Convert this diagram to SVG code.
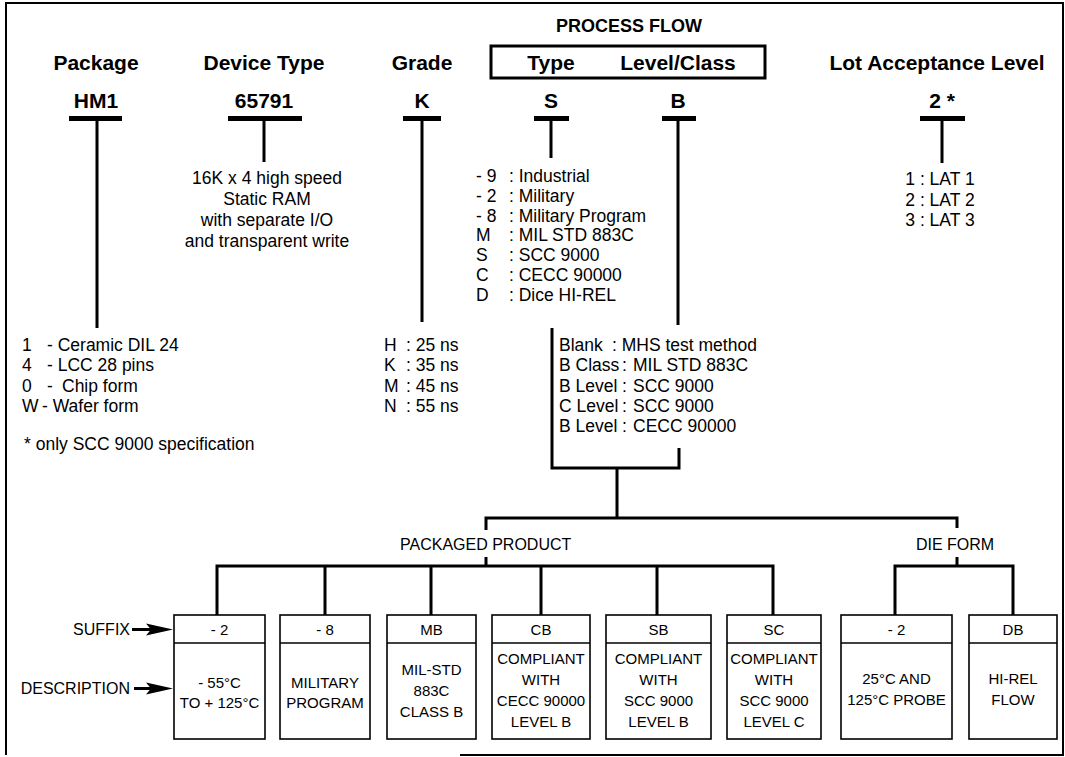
<svg xmlns="http://www.w3.org/2000/svg" width="1065" height="757" viewBox="0 0 1065 757">
<style>
text{font-family:"Liberation Sans",Arial,Helvetica,sans-serif;fill:#000}
.h{font-size:21px;font-weight:bold}
.pf{font-size:18px;font-weight:bold}
.t{font-size:17.5px}
.lb{font-size:16px}
.bx{font-size:15px}
.c{text-anchor:middle}
.e{text-anchor:end}
.bar{fill:#000}
.ln{stroke:#000;stroke-width:3;fill:none}
.box{fill:#fff;stroke:#000;stroke-width:1.6}
</style>
<defs>
<polygon id="ah" points="-27,-6 0,0 -27,6 -22,0"/>
</defs>
<rect width="1065" height="757" fill="#fff"/>
<path d="M460 755H1063V3H6V755" fill="none" stroke="#000" stroke-width="2"/>

<g id="process-flow-header">
<text class="pf c" x="629" y="32">PROCESS FLOW</text>
<rect x="491" y="46" width="274" height="32" fill="none" stroke="#000" stroke-width="3"/>
</g>

<g id="package">
<text class="h c" x="96" y="70">Package</text>
<text class="h c" x="96" y="108">HM1</text>
<rect class="bar" x="69" y="116" width="53" height="5"/>
<text class="t"><tspan x="22" y="351">1</tspan><tspan x="47" y="351">- Ceramic DIL 24</tspan></text>
<text class="t"><tspan x="22" y="371">4</tspan><tspan x="47" y="371">- LCC 28 pins</tspan></text>
<text class="t"><tspan x="22" y="392">0</tspan><tspan x="47" y="392">-</tspan><tspan x="62" y="392">Chip form</tspan></text>
<text class="t"><tspan x="22" y="412">W</tspan><tspan x="42" y="412">- Wafer form</tspan></text>
<text class="t" x="24" y="450">* only SCC 9000 specification</text>
</g>

<g id="device-type">
<text class="h c" x="264" y="70">Device Type</text>
<text class="h c" x="264" y="108">65791</text>
<rect class="bar" x="228" y="116" width="74" height="5"/>
<text class="t c" x="267" y="184">16K x 4 high speed</text>
<text class="t c" x="267" y="205">Static RAM</text>
<text class="t c" x="267" y="226">with separate I/O</text>
<text class="t c" x="267" y="247">and transparent write</text>
</g>

<g id="grade">
<text class="h c" x="422" y="70">Grade</text>
<text class="h c" x="422" y="108">K</text>
<rect class="bar" x="403" y="116" width="38" height="5"/>
<text class="t"><tspan x="384" y="351">H</tspan><tspan x="406" y="351">: 25 ns</tspan></text>
<text class="t"><tspan x="384" y="371">K</tspan><tspan x="406" y="371">: 35 ns</tspan></text>
<text class="t"><tspan x="384" y="392">M</tspan><tspan x="406" y="392">: 45 ns</tspan></text>
<text class="t"><tspan x="384" y="412">N</tspan><tspan x="406" y="412">: 55 ns</tspan></text>
</g>

<g id="type">
<text class="h c" x="551" y="70">Type</text>
<text class="h c" x="551" y="108">S</text>
<rect class="bar" x="534" y="116" width="35" height="5"/>
<text class="t"><tspan x="476" y="182">- 9</tspan><tspan x="509" y="182">: Industrial</tspan></text>
<text class="t"><tspan x="476" y="202">- 2</tspan><tspan x="509" y="202">: Military</tspan></text>
<text class="t"><tspan x="476" y="222">- 8</tspan><tspan x="509" y="222">: Military Program</tspan></text>
<text class="t"><tspan x="476" y="241">M</tspan><tspan x="509" y="241">: MIL STD 883C</tspan></text>
<text class="t"><tspan x="476" y="261">S</tspan><tspan x="509" y="261">: SCC 9000</tspan></text>
<text class="t"><tspan x="476" y="281">C</tspan><tspan x="509" y="281">: CECC 90000</tspan></text>
<text class="t"><tspan x="476" y="301">D</tspan><tspan x="509" y="301">: Dice HI-REL</tspan></text>
</g>

<g id="level-class">
<text class="h c" x="678" y="70">Level/Class</text>
<text class="h c" x="678" y="108">B</text>
<rect class="bar" x="662" y="116" width="34" height="5"/>
<text class="t"><tspan x="559" y="351">Blank</tspan><tspan x="612" y="351">: MHS test method</tspan></text>
<text class="t"><tspan x="559" y="371">B Class</tspan><tspan x="622" y="371">:</tspan><tspan x="633" y="371">MIL STD 883C</tspan></text>
<text class="t"><tspan x="559" y="392">B Level</tspan><tspan x="622" y="392">:</tspan><tspan x="633" y="392">SCC 9000</tspan></text>
<text class="t"><tspan x="559" y="412">C Level</tspan><tspan x="622" y="412">:</tspan><tspan x="633" y="412">SCC 9000</tspan></text>
<text class="t"><tspan x="559" y="432">B Level</tspan><tspan x="622" y="432">:</tspan><tspan x="633" y="432">CECC 90000</tspan></text>
</g>

<g id="lot-acceptance">
<text class="h c" x="937" y="70">Lot Acceptance Level</text>
<text class="h c" x="942" y="108">2 *</text>
<rect class="bar" x="920" y="116" width="45" height="5"/>
<text class="t c" x="940" y="185">1 : LAT 1</text>
<text class="t c" x="940" y="206">2 : LAT 2</text>
<text class="t c" x="940" y="226">3 : LAT 3</text>
</g>

<g id="connectors">
<path class="ln" d="M97 119V328M264 119V162M422 119V322M551 119V158M678 119V325M942 119V163"/>
<path class="ln" d="M552 328V468H679V448"/>
<path class="ln" d="M617 468V518M486 530V518H957V528M486 557V566M957 557V566"/>
<path class="ln" d="M217 615V566H773V615M325 566V615M431 566V615M541 566V615M657 566V615"/>
<path class="ln" d="M895 615V566H1013V615"/>
</g>

<g id="group-labels">
<text class="lb" x="400" y="550">PACKAGED PRODUCT</text>
<text class="lb c" x="955" y="550">DIE FORM</text>
</g>

<g id="side-labels">
<text class="lb e" x="130" y="635">SUFFIX</text>
<line x1="132" y1="629.5" x2="152" y2="629.5" stroke="#000" stroke-width="3"/>
<use href="#ah" x="173" y="629.5"/>
<text class="lb e" x="130" y="694">DESCRIPTION</text>
<line x1="134" y1="688.5" x2="152" y2="688.5" stroke="#000" stroke-width="3"/>
<use href="#ah" x="173" y="688.5"/>
</g>

<g id="box-m2">
<rect class="box" x="174" y="615" width="91" height="124"/><line class="box" x1="174" y1="643" x2="265" y2="643"/>
<text class="bx c" x="219.5" y="635">- 2</text>
<text class="bx c" x="219.5" y="688">- 55°C</text><text class="bx c" x="219.5" y="708">TO + 125°C</text>
</g>
<g id="box-m8">
<rect class="box" x="280" y="615" width="90" height="124"/><line class="box" x1="280" y1="643" x2="370" y2="643"/>
<text class="bx c" x="325" y="635">- 8</text>
<text class="bx c" x="325" y="688">MILITARY</text><text class="bx c" x="325" y="708">PROGRAM</text>
</g>
<g id="box-mb">
<rect class="box" x="387" y="615" width="89" height="124"/><line class="box" x1="387" y1="643" x2="476" y2="643"/>
<text class="bx c" x="431.5" y="635">MB</text>
<text class="bx c" x="431.5" y="675">MIL-STD</text><text class="bx c" x="431.5" y="696">883C</text><text class="bx c" x="431.5" y="717">CLASS B</text>
</g>
<g id="box-cb">
<rect class="box" x="492" y="615" width="98" height="124"/><line class="box" x1="492" y1="643" x2="590" y2="643"/>
<text class="bx c" x="541" y="635">CB</text>
<text class="bx c" x="541" y="664">COMPLIANT</text><text class="bx c" x="541" y="685">WITH</text><text class="bx c" x="541" y="706">CECC 90000</text><text class="bx c" x="541" y="727">LEVEL B</text>
</g>
<g id="box-sb">
<rect class="box" x="606" y="615" width="105" height="124"/><line class="box" x1="606" y1="643" x2="711" y2="643"/>
<text class="bx c" x="658.5" y="635">SB</text>
<text class="bx c" x="658.5" y="664">COMPLIANT</text><text class="bx c" x="658.5" y="685">WITH</text><text class="bx c" x="658.5" y="706">SCC 9000</text><text class="bx c" x="658.5" y="727">LEVEL B</text>
</g>
<g id="box-sc">
<rect class="box" x="727" y="615" width="94" height="124"/><line class="box" x1="727" y1="643" x2="821" y2="643"/>
<text class="bx c" x="774" y="635">SC</text>
<text class="bx c" x="774" y="664">COMPLIANT</text><text class="bx c" x="774" y="685">WITH</text><text class="bx c" x="774" y="706">SCC 9000</text><text class="bx c" x="774" y="727">LEVEL C</text>
</g>
<g id="box-d2">
<rect class="box" x="841" y="615" width="111" height="124"/><line class="box" x1="841" y1="643" x2="952" y2="643"/>
<text class="bx c" x="896.5" y="635">- 2</text>
<text class="bx c" x="896.5" y="684">25°C AND</text><text class="bx c" x="896.5" y="705">125°C PROBE</text>
</g>
<g id="box-db">
<rect class="box" x="969" y="615" width="88" height="124"/><line class="box" x1="969" y1="643" x2="1057" y2="643"/>
<text class="bx c" x="1013" y="635">DB</text>
<text class="bx c" x="1013" y="684">HI-REL</text><text class="bx c" x="1013" y="705">FLOW</text>
</g>
</svg>
